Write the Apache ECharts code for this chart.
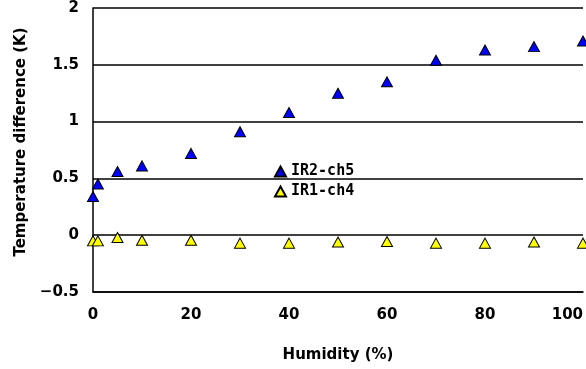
<!DOCTYPE html>
<html>
<head>
<meta charset="utf-8">
<script src="https://cdn.jsdelivr.net/npm/echarts@6/dist/echarts.min.js"></script>
<style>
  html, body { margin: 0; padding: 0; background: #fff; }
  #chart { width: 586px; height: 369px; }
</style>
</head>
<body>
<div id="chart"></div>
<script>
// humidity (%) on x, temperature difference (K) on y
const humidity = [0, 1, 5, 10, 20, 30, 40, 50, 60, 70, 80, 90, 100]
const ir2ch5 = [0.34, 0.45, 0.56, 0.61, 0.72, 0.91, 1.08, 1.25, 1.35, 1.54, 1.63, 1.66, 1.71]
const ir1ch4 = [-0.05, -0.05, -0.02, -0.045, -0.045, -0.07, -0.07, -0.06, -0.055, -0.07, -0.07, -0.06, -0.07]

const seriesNames = ['IR2-ch5', 'IR1-ch4']
const yTicks = { min: -0.5, max: 2, interval: 0.5 }
const xTicks = { min: 0, max: 100, interval: 20 }

const font = 'DejaVu Sans'
const toPairs = (ys) => humidity.map((x, i) => [x, ys[i]])

const myChart = echarts.init(document.getElementById('chart'))

const option = {
  animation: false,
  backgroundColor: '#fff',
  grid: {
    left: 93,
    right: 3,
    top: 8,
    bottom: 77,
    containLabel: false,
    outerBoundsMode: 'none'
  },
  legend: {
    data: seriesNames,
    orient: 'vertical',
    left: 269,
    top: 159,
    icon: 'triangle',
    itemWidth: 11,
    itemHeight: 10,
    itemGap: 5,
    textStyle: {
      fontFamily: 'DejaVu Sans Mono',
      fontWeight: 'bold',
      fontSize: 15,
      color: '#000'
    }
  },
  xAxis: {
    type: 'value',
    min: xTicks.min,
    max: xTicks.max,
    interval: xTicks.interval,
    name: 'Humidity (%)',
    nameLocation: 'middle',
    nameGap: 56,
    nameTextStyle: {
      fontFamily: font,
      fontWeight: 'bold',
      fontSize: 15,
      color: '#000'
    },
    axisLine: {
      show: true,
      onZero: false,
      lineStyle: { color: '#000', width: 1.5 }
    },
    axisTick: { show: false },
    splitLine: { show: false },
    axisLabel: {
      margin: 16,
      alignMaxLabel: 'right',
      fontFamily: font,
      fontWeight: 'bold',
      fontSize: 15,
      color: '#000'
    }
  },
  yAxis: {
    type: 'value',
    min: yTicks.min,
    max: yTicks.max,
    interval: yTicks.interval,
    name: 'Temperature difference (K)',
    nameLocation: 'middle',
    nameGap: 63,
    nameTextStyle: {
      fontFamily: font,
      fontWeight: 'bold',
      fontSize: 15,
      color: '#000',
      padding: [0, 0, 0, 16]
    },
    axisLine: {
      show: true,
      lineStyle: { color: '#000', width: 1.5 }
    },
    axisTick: { show: false },
    splitLine: {
      show: true,
      lineStyle: { color: '#000', width: 1.5 }
    },
    axisLabel: {
      margin: 14,
      fontFamily: font,
      fontWeight: 'bold',
      fontSize: 15,
      color: '#000',
      formatter: (v) => String(v).replace('-', '\u2212')
    }
  },
  series: [
    {
      name: seriesNames[0],
      type: 'scatter',
      symbol: 'triangle',
      symbolSize: [11, 10],
      data: toPairs(ir2ch5),
      itemStyle: { color: '#0000ff', borderColor: '#000', borderWidth: 1, opacity: 1 }
    },
    {
      name: seriesNames[1],
      type: 'scatter',
      symbol: 'triangle',
      symbolSize: [11, 10],
      data: toPairs(ir1ch4),
      itemStyle: { color: '#ffff00', borderColor: '#000', borderWidth: 1, opacity: 1 }
    }
  ]
}

myChart.setOption(option)
</script>
</body>
</html>
